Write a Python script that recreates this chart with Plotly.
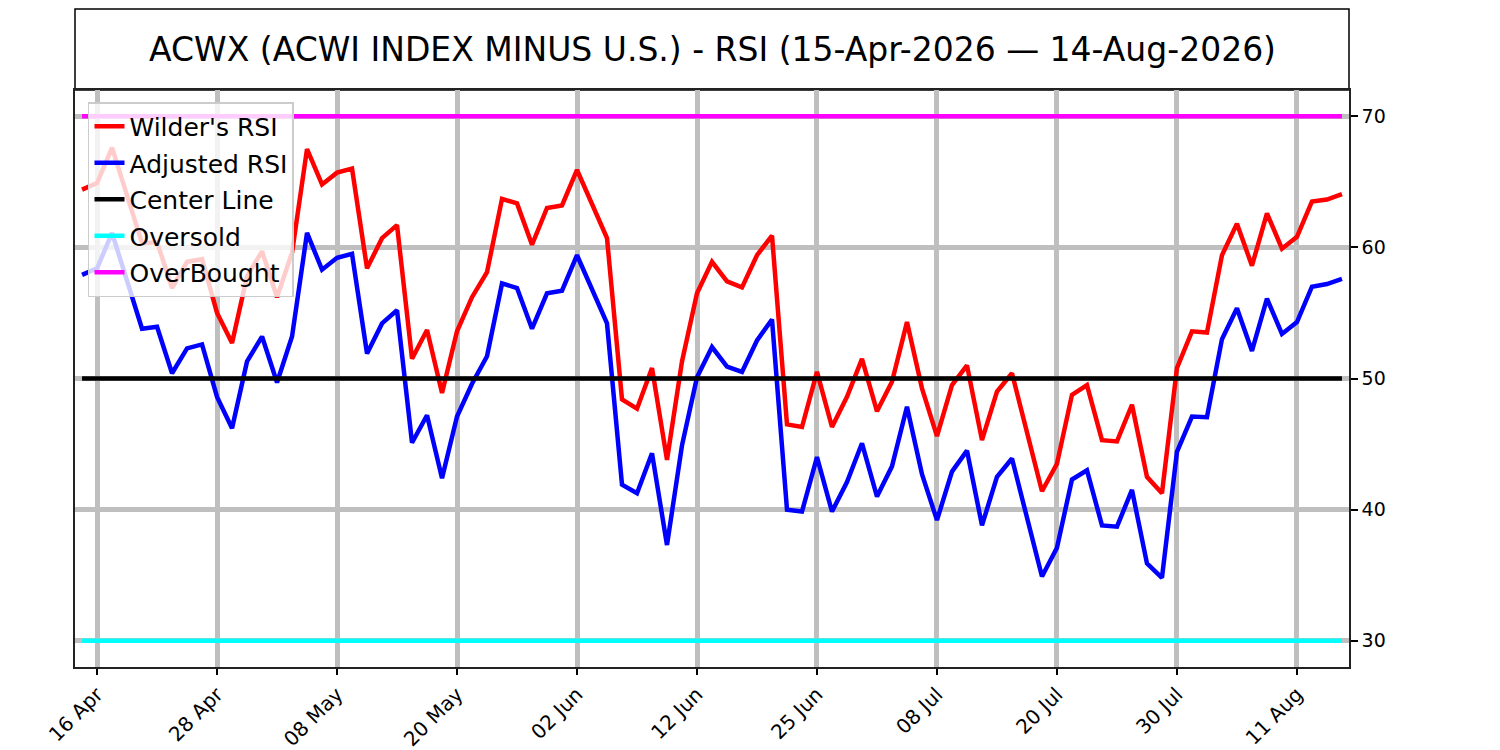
import pandas as pd
import plotly.graph_objects as go

# trading days 15-Apr-2026 .. 14-Aug-2026 (US market holidays removed)
holidays = ["2026-05-25", "2026-06-19", "2026-07-03"]
dates = [d for d in pd.bdate_range("2026-04-15", "2026-08-14") if d.strftime("%Y-%m-%d") not in holidays]
x_labels = [d.strftime("%Y-%m-%d") for d in dates]

wilder_rsi = [
    64.4, 64.9, 67.6, 63.9, 60.3, 60.4, 56.9, 58.9, 59.1, 55.0,
    52.7, 57.8, 59.7, 56.2, 59.6, 67.5, 64.8, 65.7, 66.0, 58.4,
    60.7, 61.7, 51.5, 53.7, 48.9, 53.6, 56.2, 58.1, 63.7, 63.35,
    60.2, 63.0, 63.2, 65.9, 63.3, 60.7, 48.4, 47.7, 50.8, 43.8,
    51.3, 56.5, 58.9, 57.4, 56.95, 59.4, 60.9, 46.5, 46.3, 50.5,
    46.3, 48.6, 51.5, 47.5, 49.75, 54.3, 49.25, 45.6, 49.5, 51.0,
    45.3, 49.0, 50.4, 45.8, 41.4, 43.5, 48.75, 49.5, 45.3, 45.2,
    48.0, 42.5, 41.25, 50.8, 53.6, 53.5, 59.4, 61.8, 58.6, 62.6,
    59.9, 60.8, 63.5, 63.65, 64.06,
]
adjusted_rsi = [
    57.9, 58.4, 61.1, 57.4, 53.8, 53.95, 50.4, 52.3, 52.6, 48.6,
    46.2, 51.3, 53.2, 49.7, 53.2, 61.1, 58.3, 59.2, 59.5, 51.9,
    54.2, 55.2, 45.1, 47.2, 42.4, 47.1, 49.6, 51.7, 57.25, 56.9,
    53.8, 56.5, 56.7, 59.4, 56.8, 54.2, 41.9, 41.25, 44.3, 37.3,
    44.9, 50.1, 52.4, 50.9, 50.5, 52.9, 54.5, 40.0, 39.85, 44.0,
    39.85, 42.1, 45.06, 41.0, 43.3, 47.85, 42.7, 39.2, 42.9, 44.5,
    38.8, 42.5, 43.9, 39.4, 34.9, 37.1, 42.3, 43.0, 38.8, 38.7,
    41.5, 35.9, 34.8, 44.4, 47.1, 47.05, 53.0, 55.35, 52.1, 56.1,
    53.4, 54.3, 57.0, 57.2, 57.6,
]
center_level = 50
oversold_level = 30
overbought_level = 70

tick_idx = list(range(1, len(x_labels), 8))
tick_vals = [x_labels[i] for i in tick_idx]
tick_text = [dates[i].strftime("%d %b") for i in tick_idx]

title = "ACWX (ACWI INDEX MINUS U.S.) - RSI (15-Apr-2026 \u2014 14-Aug-2026)"

fig = go.Figure()
series = [
    ("Wilder's RSI", wilder_rsi, "#ff0000"),
    ("Adjusted RSI", adjusted_rsi, "#0000ff"),
    ("Center Line", [center_level] * len(x_labels), "#000000"),
    ("Oversold", [oversold_level] * len(x_labels), "#00ffff"),
    ("OverBought", [overbought_level] * len(x_labels), "#ff00ff"),
]
for name, vals, col in series:
    fig.add_trace(go.Scatter(x=x_labels, y=vals, name=name, mode="lines",
                             line=dict(color=col, width=4.5), legendgroup=name))

# page has an 8px body margin, so the figure is 8px smaller than the window
fig.update_layout(
    width=1492, height=742,
    margin=dict(l=67, r=151, t=82, b=83, autoexpand=False),
    paper_bgcolor="white", plot_bgcolor="white",
    font=dict(family="DejaVu Sans", color="black", size=18),
    showlegend=True,
    legend=dict(x=0.0102, y=0.979, xanchor="left", yanchor="top",
                bgcolor="rgba(255,255,255,0.8)", bordercolor="#cccccc", borderwidth=1.5,
                font=dict(size=25), tracegroupgap=1, itemwidth=30),
)
fig.update_xaxes(type="category", range=[-0.47, 84.47], automargin=False,
                 tickmode="array", tickvals=tick_vals, ticktext=tick_text, tickangle=-45,
                 tickfont=dict(size=20, family="DejaVu Sans", color="black"),
                 ticks="outside", ticklen=6, tickwidth=1.5, tickcolor="black",
                 showgrid=True, gridcolor="#bfbfbf", gridwidth=4.5,
                 showline=True, linecolor="#222222", linewidth=1.5, mirror=True, zeroline=False)
fig.update_yaxes(range=[28, 72], side="right", tickvals=[30, 40, 50, 60, 70], automargin=False,
                 tickfont=dict(size=19, family="DejaVu Sans", color="black"),
                 ticks="outside", ticklen=7, tickwidth=1.5, tickcolor="black",
                 showgrid=True, gridcolor="#bfbfbf", gridwidth=4.5,
                 showline=True, linecolor="#222222", linewidth=1.5, mirror=True, zeroline=False)

# title box above the plot area
fig.add_shape(type="rect", xref="paper", yref="paper", x0=0, x1=1, y0=1, y1=1.1404,
              line=dict(color="black", width=1.5), fillcolor="white", layer="below")
fig.add_annotation(text=title, xref="paper", yref="paper", x=0.5, y=1.071,
                   showarrow=False, font=dict(size=33, color="black"),
                   xanchor="center", yanchor="middle")

fig.write_html("out.html")
